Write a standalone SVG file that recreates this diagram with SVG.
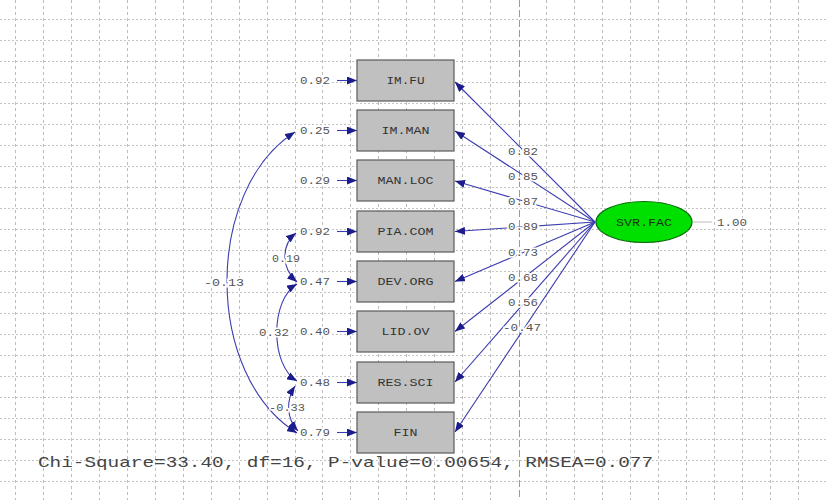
<svg xmlns="http://www.w3.org/2000/svg" width="826" height="500" viewBox="0 0 826 500">
<defs>
<style>
.grid{stroke:#c4c4c4;stroke-width:1;stroke-dasharray:2 2;fill:none}
.gridv{stroke:#bcbcbc;stroke-width:1;stroke-dasharray:3 3;fill:none}
.gridm{stroke:#9a9a9a;stroke-width:1;stroke-dasharray:7 3;fill:none}
.box{fill:#c0c0c0;stroke:#5a5a5a;stroke-width:1.2}
.bl{font-family:"Liberation Mono",monospace;font-size:10px;fill:#333;text-anchor:middle}
.lb{font-family:"Liberation Mono",monospace;font-size:10px;fill:#555;text-anchor:middle;paint-order:stroke;stroke:#fff;stroke-width:3px}
.ln{stroke:#3c3cb0;stroke-width:1.1;fill:none}
.ah{fill:#1c1c8c}
</style>
<marker id="a" viewBox="0 0 10 8" refX="10" refY="4" markerWidth="10" markerHeight="8" markerUnits="userSpaceOnUse" orient="auto-start-reverse"><path class="ah" d="M0,0 L10,4 L0,8 Z"/></marker>
</defs>
<rect width="826" height="500" fill="#fff"/>
<g id="grid">
<path class="gridv" d="M15.5,0V500M43.5,0V500M71.5,0V500M99.5,0V500M127.5,0V500M155.5,0V500M183.5,0V500M211.5,0V500M239.5,0V500M267.5,0V500M295.5,0V500M322.5,0V500M350.5,0V500M378.5,0V500M406.5,0V500M434.5,0V500M462.5,0V500M490.5,0V500M546.5,0V500M574.5,0V500M602.5,0V500M630.5,0V500M658.5,0V500M686.5,0V500M714.5,0V500M742.5,0V500M770.5,0V500M798.5,0V500"/>
<path class="grid" d="M0,19.5H826M0,40.5H826M0,61.5H826M0,82.5H826M0,103.5H826M0,124.5H826M0,145.5H826M0,166.5H826M0,187.5H826M0,208.5H826M0,229.5H826M0,250.5H826M0,271.5H826M0,292.5H826M0,313.5H826M0,334.5H826M0,355.5H826M0,376.5H826M0,397.5H826M0,418.5H826M0,439.5H826M0,460.5H826M0,481.5H826"/>
<path class="gridm" d="M519.5,0V500"/>
</g>
<g id="connectors">
<path class="ln" marker-end="url(#a)" d="M337,80.5H357"/>
<path class="ln" marker-end="url(#a)" d="M337,130.5H357"/>
<path class="ln" marker-end="url(#a)" d="M337,180.5H357"/>
<path class="ln" marker-end="url(#a)" d="M337,231.5H357"/>
<path class="ln" marker-end="url(#a)" d="M337,281.5H357"/>
<path class="ln" marker-end="url(#a)" d="M337,331.5H357"/>
<path class="ln" marker-end="url(#a)" d="M337,382.5H357"/>
<path class="ln" marker-end="url(#a)" d="M337,432.5H357"/>
<path class="ln" marker-end="url(#a)" d="M595,222L455,82"/>
<path class="ln" marker-end="url(#a)" d="M595,222L455,131"/>
<path class="ln" marker-end="url(#a)" d="M595,222L455,181"/>
<path class="ln" marker-end="url(#a)" d="M595,222L455,231.5"/>
<path class="ln" marker-end="url(#a)" d="M595,222L455,281.5"/>
<path class="ln" marker-end="url(#a)" d="M595,222L455,331.5"/>
<path class="ln" marker-end="url(#a)" d="M595,222L455,382"/>
<path class="ln" marker-end="url(#a)" d="M595,222L455,432"/>
<path class="ln" marker-start="url(#a)" marker-end="url(#a)" d="M295,132C204,190 204,375 297,433"/>
<path class="ln" marker-start="url(#a)" marker-end="url(#a)" d="M296,233C281,245 281,268 297,282"/>
<path class="ln" marker-start="url(#a)" marker-end="url(#a)" d="M297,284C270,300 270,365 297,381"/>
<path class="ln" marker-start="url(#a)" marker-end="url(#a)" d="M295,386C286,400 286,418 298,431"/>
<path d="M693,222H712" stroke="#bbb" stroke-width="1" fill="none"/>
<text class="lb" x="523" y="155" textLength="30" lengthAdjust="spacingAndGlyphs">0.82</text>
<text class="lb" x="523" y="180" textLength="30" lengthAdjust="spacingAndGlyphs">0.85</text>
<text class="lb" x="523" y="205" textLength="30" lengthAdjust="spacingAndGlyphs">0.87</text>
<text class="lb" x="523" y="230" textLength="30" lengthAdjust="spacingAndGlyphs">0.89</text>
<text class="lb" x="523" y="256" textLength="30" lengthAdjust="spacingAndGlyphs">0.73</text>
<text class="lb" x="523" y="281" textLength="30" lengthAdjust="spacingAndGlyphs">0.68</text>
<text class="lb" x="523" y="306" textLength="30" lengthAdjust="spacingAndGlyphs">0.56</text>
<text class="lb" x="522" y="331" textLength="38" lengthAdjust="spacingAndGlyphs">-0.47</text>
<text class="lb" x="224" y="286" textLength="40" lengthAdjust="spacingAndGlyphs">-0.13</text>
<text class="lb" x="286" y="262" textLength="28" lengthAdjust="spacingAndGlyphs">0.19</text>
<text class="lb" x="274" y="336" textLength="30" lengthAdjust="spacingAndGlyphs">0.32</text>
<text class="lb" x="287" y="411" textLength="36" lengthAdjust="spacingAndGlyphs">-0.33</text>
</g>
<g id="e1"><text class="lb" x="315" y="84" textLength="30" lengthAdjust="spacingAndGlyphs">0.92</text></g>
<g id="e2"><text class="lb" x="315" y="134" textLength="30" lengthAdjust="spacingAndGlyphs">0.25</text></g>
<g id="e3"><text class="lb" x="315" y="184" textLength="30" lengthAdjust="spacingAndGlyphs">0.29</text></g>
<g id="e4"><text class="lb" x="315" y="235" textLength="30" lengthAdjust="spacingAndGlyphs">0.92</text></g>
<g id="e5"><text class="lb" x="315" y="285" textLength="30" lengthAdjust="spacingAndGlyphs">0.47</text></g>
<g id="e6"><text class="lb" x="315" y="335" textLength="30" lengthAdjust="spacingAndGlyphs">0.40</text></g>
<g id="e7"><text class="lb" x="315" y="386" textLength="30" lengthAdjust="spacingAndGlyphs">0.48</text></g>
<g id="e8"><text class="lb" x="315" y="436" textLength="30" lengthAdjust="spacingAndGlyphs">0.79</text></g>
<g id="IM_FU"><rect class="box" x="357" y="60" width="97" height="41"/><text class="bl" x="405.5" y="84" textLength="38" lengthAdjust="spacingAndGlyphs">IM.FU</text></g>
<g id="IM_MAN"><rect class="box" x="357" y="110" width="97" height="41"/><text class="bl" x="405.5" y="134" textLength="48" lengthAdjust="spacingAndGlyphs">IM.MAN</text></g>
<g id="MAN_LOC"><rect class="box" x="357" y="160" width="97" height="41"/><text class="bl" x="405.5" y="184" textLength="56" lengthAdjust="spacingAndGlyphs">MAN.LOC</text></g>
<g id="PIA_COM"><rect class="box" x="357" y="211" width="97" height="41"/><text class="bl" x="405.5" y="235" textLength="56" lengthAdjust="spacingAndGlyphs">PIA.COM</text></g>
<g id="DEV_ORG"><rect class="box" x="357" y="261" width="97" height="41"/><text class="bl" x="405.5" y="285" textLength="56" lengthAdjust="spacingAndGlyphs">DEV.ORG</text></g>
<g id="LID_OV"><rect class="box" x="357" y="311" width="97" height="41"/><text class="bl" x="405.5" y="335" textLength="48" lengthAdjust="spacingAndGlyphs">LID.OV</text></g>
<g id="RES_SCI"><rect class="box" x="357" y="362" width="97" height="41"/><text class="bl" x="405.5" y="386" textLength="56" lengthAdjust="spacingAndGlyphs">RES.SCI</text></g>
<g id="FIN"><rect class="box" x="357" y="412" width="97" height="41"/><text class="bl" x="405.5" y="436" textLength="24" lengthAdjust="spacingAndGlyphs">FIN</text></g>
<g id="SVR_FAC"><ellipse cx="644" cy="222" rx="48" ry="20.5" fill="#00e000" stroke="#0a6a0a" stroke-width="1.2"/><text class="bl" x="644" y="226" textLength="56" lengthAdjust="spacingAndGlyphs" style="fill:#173317">SVR.FAC</text></g>
<g id="svr_var"><text class="lb" x="732" y="226" textLength="30" lengthAdjust="spacingAndGlyphs">1.00</text></g>
<g id="fit"><text x="38" y="467" font-family="Liberation Mono, monospace" font-size="15" fill="#444" textLength="615" lengthAdjust="spacingAndGlyphs">Chi-Square=33.40, df=16, P-value=0.00654, RMSEA=0.077</text></g>
</svg>
